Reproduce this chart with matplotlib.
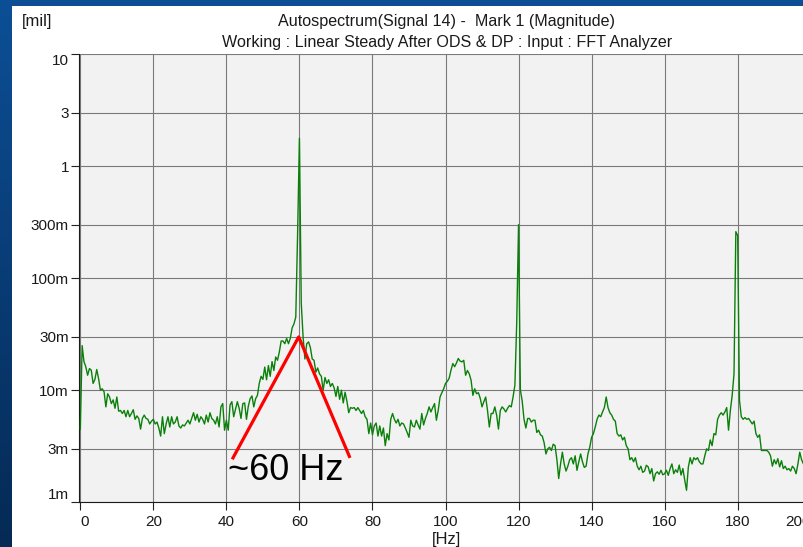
import numpy as np
import matplotlib
matplotlib.use("Agg")
import matplotlib.pyplot as plt
from matplotlib.patches import Rectangle

plt.rcParams['font.family'] = ['Liberation Sans', 'DejaVu Sans']

# ---------------- data ----------------
title_line1 = "Autospectrum(Signal 14) -  Mark 1 (Magnitude)"
title_line2 = "Working : Linear Steady After ODS & DP : Input : FFT Analyzer"
y_unit = "[mil]"
x_unit = "[Hz]"
annotation_text = "~60 Hz"

freq_min, freq_max = 0.0, 200.0   # spectrum spans 0..200 Hz, 0.5 Hz bins

# magnitude in milli-mil (m), one value per 0.5 Hz bin
amp_m = [
    4.5, 25.0, 18.0, 16.2, 13.6, 15.6, 15.1, 11.5, 12.5, 15.3, 12.7, 10.0, 10.3, 9.7, 7.1, 9.3, 8.7, 7.6, 8.2, 6.9,
    8.7, 6.5, 6.6, 6.2, 6.6, 5.8, 6.6, 5.8, 6.2, 6.7, 5.5, 5.9, 5.6, 4.5, 5.6, 6.0, 5.6, 5.5, 5.0, 5.3,
    5.5, 5.0, 5.2, 4.6, 3.9, 5.8, 4.1, 5.0, 5.8, 4.7, 5.8, 5.0, 5.2, 5.8, 4.8, 4.6, 4.9, 4.8, 5.1, 5.4,
    5.0, 5.6, 6.3, 5.4, 6.1, 5.2, 5.8, 5.5, 5.0, 6.0, 5.2, 6.3, 5.6, 5.4, 5.0, 5.8, 4.7, 7.1, 7.6, 4.4,
    5.4, 4.4, 7.4, 7.9, 5.8, 6.8, 7.9, 6.9, 5.6, 7.6, 7.7, 5.5, 7.2, 8.4, 8.9, 7.1, 8.4, 9.0, 11.5, 13.3,
    12.5, 16.1, 12.4, 16.6, 13.3, 18.0, 15.0, 19.8, 18.5, 22.0, 27.5, 27.5, 26.0, 29.0, 26.0, 29.0, 36.0, 39.0, 45.0, 250.0,
    1770.0, 60.0, 30.0, 19.0, 26.0, 27.0, 24.0, 19.0, 18.5, 14.5, 15.8, 14.0, 13.3, 10.0, 13.0, 11.5, 12.4, 10.8, 11.5, 10.5,
    8.8, 10.8, 8.3, 10.0, 7.7, 9.6, 8.0, 6.3, 7.0, 6.9, 7.0, 6.6, 7.0, 6.6, 6.2, 6.6, 5.8, 5.5, 4.1, 5.1,
    4.0, 4.8, 5.1, 3.9, 4.8, 3.9, 4.6, 3.2, 4.1, 3.6, 5.5, 6.2, 5.5, 5.1, 5.5, 4.8, 5.1, 5.0, 4.6, 4.2,
    3.8, 5.4, 4.8, 4.7, 5.4, 4.9, 4.5, 6.2, 4.9, 5.6, 6.2, 7.1, 6.4, 7.0, 7.6, 5.4, 6.6, 8.7, 9.5, 10.3,
    11.5, 12.0, 12.8, 15.1, 17.3, 16.2, 17.5, 19.2, 18.2, 17.9, 18.5, 13.6, 15.0, 14.0, 12.3, 9.0, 10.3, 9.3, 9.5, 8.5,
    7.1, 7.9, 8.7, 6.6, 4.7, 6.2, 6.2, 7.1, 6.0, 4.5, 6.6, 7.1, 6.8, 6.4, 6.9, 7.3, 7.1, 8.7, 11.1, 40.0,
    300.0, 10.0, 8.0, 5.5, 4.6, 5.6, 5.6, 5.2, 5.4, 5.4, 4.2, 4.4, 4.0, 3.9, 3.4, 2.7, 3.0, 3.1, 2.9, 3.3,
    3.2, 2.4, 1.63, 2.2, 2.8, 2.2, 1.9, 2.1, 2.4, 2.5, 2.2, 2.6, 1.93, 2.3, 2.7, 2.3, 2.05, 2.1, 2.7, 3.1,
    3.8, 4.1, 4.7, 5.5, 6.0, 5.8, 6.4, 7.0, 8.7, 7.0, 6.3, 6.0, 5.5, 5.3, 4.1, 3.9, 4.0, 3.6, 3.8, 3.2,
    3.0, 2.4, 2.5, 2.3, 2.5, 2.1, 1.95, 2.1, 1.85, 1.9, 2.14, 2.07, 1.8, 2.0, 1.55, 1.8, 1.87, 1.78, 1.93, 1.76,
    1.8, 1.93, 1.74, 2.0, 2.2, 1.8, 1.95, 1.85, 2.15, 1.75, 2.0, 1.58, 1.28, 2.07, 2.5, 2.2, 2.5, 2.4, 2.5, 2.3,
    2.2, 2.2, 2.6, 3.0, 2.9, 3.6, 3.2, 4.1, 4.0, 5.5, 6.0, 6.3, 6.0, 6.4, 7.0, 4.4, 6.6, 9.0, 14.0, 260.0,
    240.0, 8.1, 5.8, 5.5, 5.7, 5.5, 5.6, 5.3, 5.0, 5.3, 4.1, 3.8, 4.0, 2.9, 2.9, 2.9, 2.9, 2.8, 2.6, 2.1,
    2.4, 2.2, 2.45, 2.07, 2.35, 2.0, 2.1, 1.95, 2.0, 1.9, 2.1, 2.0, 1.8, 2.2, 2.8, 2.4, 2.2, 2.5, 2.3, 2.4,
    2.2,
]

x_ticks = [0, 20, 40, 60, 80, 100, 120, 140, 160, 180, 200]
x_tick_labels = ["0", "20", "40", "60", "80", "100", "120", "140", "160", "180", "200"]
y_ticks = [0.001, 0.003, 0.01, 0.03, 0.1, 0.3, 1, 3, 10]
y_tick_labels = ["1m", "3m", "10m", "30m", "100m", "300m", "1", "3", "10"]

amp = np.array(amp_m) / 1000.0
freq = np.linspace(freq_min, freq_max, len(amp))

# ---------------- figure ----------------
W, H = 804, 547
fig = plt.figure(figsize=(W / 100, H / 100), dpi=100)

# blue slide background with white panel
bg = fig.add_axes([0, 0, 1, 1], zorder=-5)
grad = np.linspace(0, 1, 256).reshape(-1, 1)
top_c = np.array([0x0c, 0x4f, 0x96]) / 255
bot_c = np.array([0x05, 0x2a, 0x55]) / 255
img = top_c[None, None, :] * (1 - grad[..., None]) + bot_c[None, None, :] * grad[..., None]
bg.imshow(img, aspect='auto', extent=[0, 1, 0, 1], origin='upper')
bg.add_patch(Rectangle((12 / W, 0), 1 - 12 / W, 1 - 6 / H, transform=bg.transAxes,
                       facecolor='white', edgecolor='none'))
bg.set_xlim(0, 1)
bg.set_ylim(0, 1)
bg.axis('off')

# main axes (right end at 200 Hz falls just outside the picture)
ax_left_px, ax_right_px = 79.4, 810.7
ax_top_px, ax_bot_px = 54.0, 502.3
ax = fig.add_axes([ax_left_px / W, 1 - ax_bot_px / H,
                   (ax_right_px - ax_left_px) / W, (ax_bot_px - ax_top_px) / H], zorder=1)
ax.set_facecolor('#f2f2f2')

ax.plot(freq, amp, color='#0a800a', lw=1.0, zorder=3)

ax.set_yscale('log')
ax.set_xlim(-0.25, 200)
ax.set_ylim(1e-3, 10)
ax.set_xticks(x_ticks, x_tick_labels)
ax.set_yticks(y_ticks, y_tick_labels)
ax.yaxis.set_minor_locator(matplotlib.ticker.NullLocator())
ax.tick_params(axis='both', direction='out', length=6, width=0.8, color='#222222',
               labelsize=11, labelcolor='#1a1a1a')
ax.tick_params(axis='y', pad=1.5)
ax.tick_params(axis='x', pad=3.5)

ax.set_axisbelow(True)
ax.grid(True, which='major', color='#7a7a7a', lw=0.8)

for s in ['top', 'right']:
    ax.spines[s].set_visible(False)
for s in ['left', 'bottom']:
    ax.spines[s].set_color('#1a1a1a')
    ax.spines[s].set_linewidth(0.8)

# end labels pulled inside the axis range
yt = ax.yaxis.get_major_ticks()
yt[0].label1.set_verticalalignment('bottom')
yt[-1].label1.set_verticalalignment('top')
xt = ax.xaxis.get_major_ticks()
xt[0].label1.set_horizontalalignment('left')
xt[-1].label1.set_horizontalalignment('right')

# red annotation
ax.plot([41.6, 59.8, 73.85], [2.42e-3, 0.0299, 2.49e-3], color='#ff0000', lw=2.3,
        solid_capstyle='butt', zorder=4)
ax.text(40.4, 1.57e-3, annotation_text, fontsize=26, color='black', ha='left',
        va='baseline', zorder=5)

# titles and unit labels
fig.text(447 / W, 1 - 26 / H, title_line1, ha='center', va='baseline', fontsize=11.6, color='#1a1a1a')
fig.text(447 / W, 1 - 47 / H, title_line2, ha='center', va='baseline', fontsize=11.6, color='#1a1a1a')
fig.text(22 / W, 1 - 26 / H, y_unit, ha='left', va='baseline', fontsize=12, color='#1a1a1a')
fig.text(446.5 / W, 1 - 532 / H, x_unit, ha='center', va='top', fontsize=12, color='#1a1a1a')

fig.savefig("out.png", dpi=100)
